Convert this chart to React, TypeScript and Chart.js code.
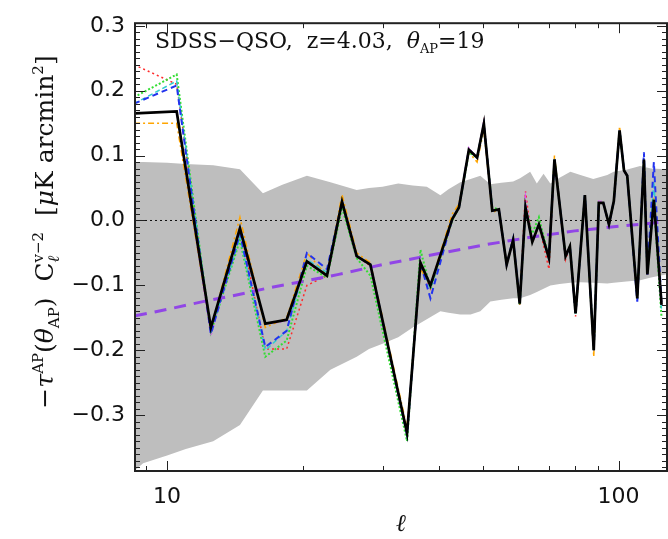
import React, { useEffect, useRef } from "react";
import { Chart, registerables } from "chart.js";
Chart.register(...registerables);

// ---- data ----
const ells = [8.45, 10.5, 12.5, 14.5, 16.5, 18.4, 20.4, 22.6, 24.4, 26.3, 28.2, 34.0, 36.4, 38.3, 42.8, 44.3, 46.6, 48.6, 50.3, 52.5, 54.3, 56.5, 58.4, 60.4, 62.2, 64.4, 66.6, 70.1, 72.1, 76.3, 78.0, 80.3, 84.2, 88.1, 90.4, 92.5, 95.2, 97.6, 100.5, 102.8, 104.5, 110.0, 113.8, 115.8, 119.7, 124.5];

const blackVals = [0.165, 0.168, -0.165, -0.012, -0.159, -0.153, -0.063, -0.085, 0.029, -0.055, -0.068, -0.328, -0.065, -0.100, 0.002, 0.020, 0.109, 0.097, 0.149, 0.015, 0.017, -0.068, -0.030, -0.128, 0.020, -0.033, -0.006, -0.058, 0.094, -0.055, -0.040, -0.143, 0.039, -0.200, 0.027, 0.027, -0.006, 0.030, 0.139, 0.077, 0.069, -0.120, 0.094, -0.083, 0.032, -0.130];

const redVals = [0.240, 0.210, -0.170, -0.010, -0.198, -0.198, -0.100, -0.085, 0.030, -0.055, -0.070, -0.325, -0.068, -0.105, 0.000, 0.020, 0.108, 0.098, 0.152, 0.015, 0.017, -0.070, -0.030, -0.130, 0.045, -0.035, -0.006, -0.075, 0.092, -0.060, -0.040, -0.148, 0.038, -0.200, 0.027, 0.027, -0.006, 0.030, 0.137, 0.077, 0.069, -0.120, 0.093, -0.083, 0.032, -0.130];

const orangeVals = [0.150, 0.150, -0.168, 0.005, -0.165, -0.150, -0.050, -0.085, 0.040, -0.050, -0.065, -0.320, -0.075, -0.100, 0.010, 0.025, 0.105, 0.090, 0.140, 0.012, 0.017, -0.065, -0.030, -0.125, 0.020, -0.033, -0.006, -0.058, 0.100, -0.055, -0.040, -0.140, 0.039, -0.210, 0.027, 0.027, -0.006, 0.030, 0.145, 0.077, 0.069, -0.118, 0.094, -0.083, 0.035, -0.125];

const greenVals = [0.190, 0.225, -0.172, -0.030, -0.210, -0.185, -0.070, -0.088, 0.020, -0.058, -0.085, -0.340, -0.045, -0.105, 0.000, 0.020, 0.105, 0.097, 0.148, 0.020, 0.017, -0.068, -0.030, -0.130, 0.020, -0.020, 0.005, -0.058, 0.094, -0.055, -0.040, -0.143, 0.039, -0.200, 0.027, 0.027, -0.006, 0.030, 0.139, 0.077, 0.069, -0.120, 0.094, -0.083, 0.032, -0.150];

const blueVals = [0.180, 0.208, -0.175, -0.020, -0.195, -0.170, -0.050, -0.075, 0.028, -0.055, -0.068, -0.330, -0.065, -0.120, 0.002, 0.020, 0.109, 0.097, 0.149, 0.015, 0.017, -0.068, -0.028, -0.128, 0.020, -0.033, -0.006, -0.058, 0.094, -0.055, -0.040, -0.143, 0.039, -0.200, 0.027, 0.027, -0.006, 0.030, 0.139, 0.077, 0.069, -0.125, 0.105, -0.083, 0.090, -0.130];

const cyanVals = [0.180, 0.215, -0.172, -0.025, -0.200, -0.170, -0.060, -0.080, 0.030, -0.055, -0.068, -0.330, -0.065, -0.105, 0.002, 0.020, 0.109, 0.097, 0.149, 0.015, 0.017, -0.068, -0.030, -0.125, 0.020, -0.033, -0.006, -0.058, 0.094, -0.055, -0.040, -0.143, 0.039, -0.200, 0.027, 0.027, -0.006, 0.030, 0.139, 0.077, 0.069, -0.120, 0.094, -0.083, 0.060, -0.140];

const magentaVals = [0.165, 0.168, -0.178, -0.015, -0.160, -0.155, -0.065, -0.085, 0.029, -0.055, -0.068, -0.328, -0.065, -0.100, 0.002, 0.020, 0.112, 0.097, 0.155, 0.015, 0.017, -0.068, -0.030, -0.128, 0.035, -0.033, -0.006, -0.058, 0.094, -0.055, -0.040, -0.140, 0.039, -0.200, 0.032, 0.027, -0.006, 0.030, 0.139, 0.077, 0.069, -0.120, 0.094, -0.083, 0.032, -0.130];

const bandEll = [8.49, 8.85, 10, 11, 12.65, 14.5, 16.3, 18, 20.4, 23.0, 26.3, 28, 30, 32.5, 35, 37.6, 40.3, 42, 44.6, 47, 49.4, 52, 55, 58.4, 60.5, 63.7, 65.9, 68.2, 70.6, 74, 78.2, 82.3, 87.9, 94.4, 97.5, 104, 111.6, 118, 128];
const bandUpper = [0.090, 0.090, 0.089, 0.087, 0.085, 0.079, 0.042, 0.055, 0.069, 0.059, 0.047, 0.050, 0.052, 0.057, 0.054, 0.052, 0.039, 0.048, 0.059, 0.064, 0.069, 0.056, 0.058, 0.060, 0.065, 0.075, 0.057, 0.072, 0.057, 0.066, 0.075, 0.070, 0.064, 0.070, 0.075, 0.078, 0.084, 0.080, 0.079];
const bandLower = [-0.385, -0.374, -0.362, -0.352, -0.340, -0.315, -0.262, -0.262, -0.262, -0.230, -0.210, -0.198, -0.190, -0.180, -0.165, -0.152, -0.140, -0.142, -0.145, -0.145, -0.140, -0.125, -0.122, -0.120, -0.120, -0.115, -0.110, -0.105, -0.100, -0.098, -0.096, -0.095, -0.096, -0.097, -0.096, -0.094, -0.092, -0.088, -0.083];

const modelEll = [8.49, 10, 12, 14, 17, 20, 24, 30, 35, 40, 50, 65, 80, 100, 128];
const modelVals = [-0.147, -0.137, -0.125, -0.116, -0.103, -0.094, -0.083, -0.068, -0.059, -0.051, -0.038, -0.025, -0.016, -0.009, -0.002];

const yTickValues = [-0.3, -0.2, -0.1, 0.0, 0.1, 0.2, 0.3];
const xTickValues = [10, 100];
const xMinorValues = [9, 20, 30, 40, 50, 60, 70, 80, 90];

const X_MIN = 8.49, X_MAX = 128, Y_MIN = -0.386, Y_MAX = 0.304;

const pts = (xs: number[], ys: number[]) => xs.map((x, i) => ({ x, y: ys[i] }));

type Part = { t: string; s: number; dy?: number; it?: boolean; stack?: boolean };

function drawRich(ctx: CanvasRenderingContext2D, parts: Part[], x0: number, y0: number, family: string, center: boolean) {
  const fontOf = (p: Part) => `${p.it ? "italic " : ""}${p.s}px ${family}`;
  let x = 0;
  const out: { p: Part; x: number }[] = [];
  let stackStart: number | null = null;
  let stackW = 0;
  for (const p of parts) {
    ctx.font = fontOf(p);
    const w = ctx.measureText(p.t).width;
    if (p.stack) {
      stackStart = x;
      stackW = w;
      out.push({ p, x });
      continue;
    }
    if (stackStart !== null) {
      out.push({ p, x: stackStart });
      x = stackStart + Math.max(stackW, w);
      stackStart = null;
      continue;
    }
    out.push({ p, x });
    x += w;
  }
  const start = center ? x0 - x / 2 : x0;
  ctx.textBaseline = "alphabetic";
  ctx.textAlign = "left";
  for (const it of out) {
    ctx.font = fontOf(it.p);
    ctx.fillText(it.p.t, start + it.x, y0 + (it.p.dy || 0));
  }
}

const framePlugin = {
  id: "frame",
  afterDatasetsDraw(chart: any) {
    const { ctx, chartArea: a, scales } = chart;
    const x = scales.x, y = scales.y;
    ctx.save();
    ctx.strokeStyle = "#222";
    ctx.lineWidth = 1;
    ctx.beginPath();
    for (let k = Math.ceil(Y_MIN * 100); k <= Math.floor(Y_MAX * 100); k++) {
      const py = Math.round(y.getPixelForValue(k / 100)) + 0.5;
      const len = k % 10 === 0 ? 10 : 5;
      ctx.moveTo(a.left, py); ctx.lineTo(a.left + len, py);
      ctx.moveTo(a.right, py); ctx.lineTo(a.right - len, py);
    }
    for (const v of xMinorValues) {
      const px = Math.round(x.getPixelForValue(v)) + 0.5;
      ctx.moveTo(px, a.bottom); ctx.lineTo(px, a.bottom - 5);
      ctx.moveTo(px, a.top); ctx.lineTo(px, a.top + 5);
    }
    for (const v of xTickValues) {
      const px = Math.round(x.getPixelForValue(v)) + 0.5;
      ctx.moveTo(px, a.bottom); ctx.lineTo(px, a.bottom - 10);
      ctx.moveTo(px, a.top); ctx.lineTo(px, a.top + 10);
    }
    ctx.stroke();
    ctx.lineWidth = 2;
    ctx.strokeRect(a.left, a.top, a.right - a.left, a.bottom - a.top);
    ctx.restore();
  },
  afterDraw(chart: any) {
    const { ctx, chartArea: a } = chart;
    ctx.save();
    ctx.fillStyle = "#111";
    drawRich(ctx, [
      { t: "SDSS\u2212QSO,  z=4.03,  ", s: 22 },
      { t: "\u03B8", s: 22, it: true },
      { t: "AP", s: 13, dy: 5 },
      { t: "=19", s: 22 },
    ], a.left + 20, 48, "'DejaVu Serif'", false);
    ctx.translate(53, 232);
    ctx.rotate(-Math.PI / 2);
    drawRich(ctx, [
      { t: "\u2212", s: 25 },
      { t: "\u03C4", s: 25, it: true },
      { t: "AP", s: 15, dy: -10 },
      { t: "(", s: 25 },
      { t: "\u03B8", s: 25, it: true },
      { t: "AP", s: 15, dy: 6 },
      { t: ")  C", s: 25 },
      { t: "\u2113", s: 16, dy: 6, it: true, stack: true },
      { t: "v\u22122", s: 15, dy: -10 },
      { t: "  [", s: 25 },
      { t: "\u03BC", s: 25, it: true },
      { t: "K arcmin", s: 25 },
      { t: "2", s: 15, dy: -10 },
      { t: "]", s: 25 },
    ], 0, 0, "'DejaVu Serif'", true);
    ctx.restore();
  },
};

export default function App() {
  const ref = useRef<HTMLCanvasElement | null>(null);
  useEffect(() => {
    document.body.style.margin = "0";
    document.body.style.overflow = "hidden";
    const canvas = ref.current!;
    const line = (label: string, ys: number[], color: string, dash: number[], width: number, order: number) => ({
      label, data: pts(ells, ys), borderColor: color, borderDash: dash, borderWidth: width,
      pointRadius: 0, fill: false, tension: 0, order,
    });
    const chart = new Chart(canvas, {
      type: "line",
      data: {
        datasets: [
          { label: "bandUpper", data: pts(bandEll, bandUpper), borderWidth: 0, borderColor: "rgba(0,0,0,0)", backgroundColor: "rgb(190,190,190)", pointRadius: 0, fill: "+1", tension: 0, order: 20 } as any,
          { label: "bandLower", data: pts(bandEll, bandLower), borderWidth: 0, borderColor: "rgba(0,0,0,0)", pointRadius: 0, fill: false, tension: 0, order: 21 },
          { label: "zero", data: [{ x: X_MIN, y: 0 }, { x: X_MAX, y: 0 }], borderColor: "#111", borderWidth: 1, borderDash: [2, 3], pointRadius: 0, fill: false, order: 15 },
          line("red", redVals, "#ff2a2a", [2, 3], 1.5, 8),
          line("orange", orangeVals, "#ffa500", [6, 3, 2, 3], 1.5, 7),
          line("green", greenVals, "#33dd33", [2, 2], 2, 6),
          line("cyan", cyanVals, "#33cccc", [5, 3], 1.5, 5),
          line("magenta", magentaVals, "#dd44ff", [1, 3], 1.5, 4),
          line("blue", blueVals, "#2233ee", [6, 4], 2, 3),
          { label: "model", data: pts(modelEll, modelVals), borderColor: "#9146e6", borderDash: [12, 8], borderWidth: 3, pointRadius: 0, fill: false, tension: 0, order: 2 },
          line("black", blackVals, "#000000", [], 2.7, 1),
        ],
      },
      options: {
        responsive: false,
        animation: false,
        devicePixelRatio: 1,
        layout: { padding: { top: 10, right: 1, left: 0, bottom: 0 } },
        plugins: { legend: { display: false }, tooltip: { enabled: false }, title: { display: false } },
        scales: {
          x: {
            type: "logarithmic",
            min: X_MIN,
            max: X_MAX,
            grid: { display: false, drawTicks: false },
            border: { display: false },
            afterBuildTicks: (s: any) => { s.ticks = xTickValues.map((v) => ({ value: v })); },
            ticks: {
              callback: (v: any) => String(v),
              font: { family: "'DejaVu Sans'", size: 22 },
              color: "#111",
              padding: 13,
              maxRotation: 0,
              autoSkip: false,
            },
            title: { display: true, text: "\u2113", font: { family: "'DejaVu Serif'", size: 24, style: "italic" }, color: "#111", padding: { top: 0, bottom: 0 } },
            afterFit: (s: any) => { s.height = 68; },
          },
          y: {
            type: "linear",
            min: Y_MIN,
            max: Y_MAX,
            grid: { display: false, drawTicks: false },
            border: { display: false },
            afterBuildTicks: (s: any) => { s.ticks = yTickValues.map((v) => ({ value: v })); },
            ticks: {
              callback: (v: any) => (Math.abs(v) < 1e-9 ? "0.0" : Number(v).toFixed(1).replace("-", "\u2212")),
              font: { family: "'DejaVu Sans'", size: 22 },
              color: "#111",
              padding: 10,
              autoSkip: false,
            },
            afterFit: (s: any) => { s.width = 135; },
          },
        },
      } as any,
      plugins: [framePlugin],
    });
    return () => chart.destroy();
  }, []);
  return <canvas ref={ref} width={668} height={539} style={{ display: "block" }} />;
}
